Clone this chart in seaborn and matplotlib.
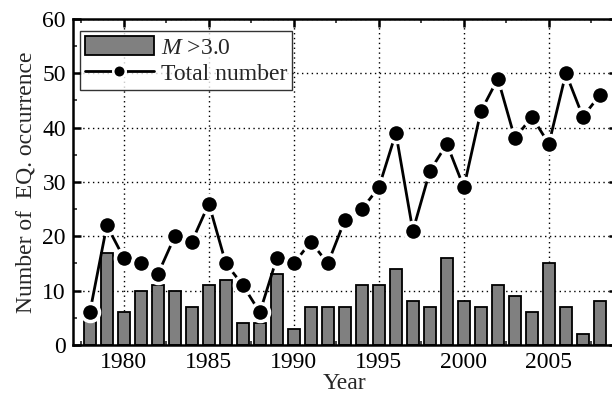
import matplotlib
matplotlib.use("Agg")
import matplotlib.pyplot as plt
from matplotlib.ticker import MultipleLocator
import seaborn as sns
import pandas as pd

years = list(range(1978, 2009))
m_above_3 = [6, 17, 6, 10, 11, 10, 7, 11, 12, 4, 4, 13, 3, 7, 7, 7,
             11, 11, 14, 8, 7, 16, 8, 7, 11, 9, 6, 15, 7, 2, 8]
total_number = [6, 22, 16, 15, 13, 20, 19, 26, 15, 11, 6, 16, 15, 19, 15, 23,
                25, 29, 39, 21, 32, 37, 29, 43, 49, 38, 42, 37, 50, 42, 46]

df = pd.DataFrame({"Year": years, "M3": m_above_3, "Total": total_number})

sns.set_theme(style="ticks")
plt.rcParams["font.family"] = ["Liberation Serif", "DejaVu Serif"]
plt.rcParams["mathtext.fontset"] = "custom"
plt.rcParams["mathtext.rm"] = "Liberation Serif"
plt.rcParams["mathtext.it"] = "Liberation Serif:italic"

fig = plt.figure(figsize=(6.12, 4.03), dpi=100)
ax = fig.add_axes([0.119, 0.144, 0.889, 0.809])

sns.barplot(data=df, x="Year", y="M3", native_scale=True, width=0.7,
            color="#808080", saturation=1, edgecolor="black", linewidth=1.3,
            ax=ax, label=r"$M$ >3.0", zorder=2)
sns.lineplot(data=df, x="Year", y="Total", color="black", linewidth=2.0,
             marker="o", markersize=13, markerfacecolor="black",
             markeredgecolor="white", markeredgewidth=2.5,
             ax=ax, label="Total number", zorder=3)

ax.set_xlim(1977, 2009)
ax.set_ylim(0, 60)
ax.xaxis.set_major_locator(MultipleLocator(5))
ax.xaxis.set_minor_locator(MultipleLocator(2.5))
ax.yaxis.set_major_locator(MultipleLocator(10))
ax.yaxis.set_minor_locator(MultipleLocator(5))

ax.grid(True, which="major", linestyle=(0, (1, 2.5)), color="black", linewidth=1.0, zorder=0)
ax.set_axisbelow(True)

for s in ax.spines.values():
    s.set_linewidth(1.8)
    s.set_color("black")
ax.tick_params(which="major", direction="in", length=6, width=1.8,
               top=True, right=True, labelsize=17, colors="black", pad=5)
ax.tick_params(which="minor", direction="in", length=3, width=1.2,
               top=True, right=True)

ax.set_xlabel("Year", fontsize=17, labelpad=0)
ax.set_ylabel("Number of  EQ. occurrence", fontsize=17, labelpad=4)

h, l = ax.get_legend_handles_labels()
order = [l.index(r"$M$ >3.0"), l.index("Total number")]
leg = ax.legend([h[i] for i in order], [l[i] for i in order],
                loc="upper left", bbox_to_anchor=(0.014, 0.963),
                fontsize=17, frameon=True, fancybox=False, edgecolor="black",
                handlelength=2.9, handleheight=0.9, handletextpad=0.3,
                borderpad=0.2, labelspacing=0.15, borderaxespad=0.0)
leg.get_frame().set_linewidth(1.0)
for line in leg.get_lines():
    line.set_markersize(9)
    line.set_markeredgewidth(1.8)

fig.savefig("out.png", dpi=100)
